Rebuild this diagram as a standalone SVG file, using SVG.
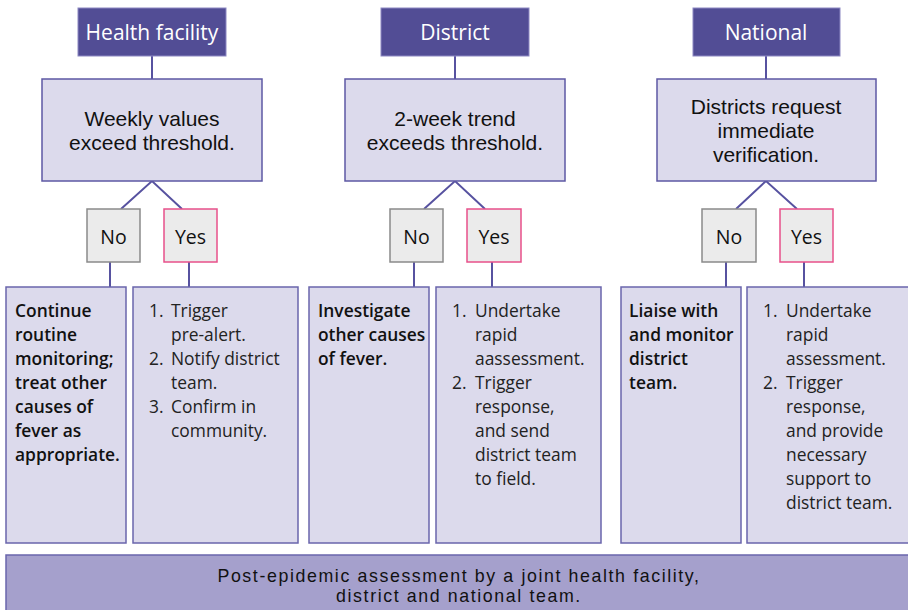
<svg xmlns="http://www.w3.org/2000/svg" width="908" height="610" viewBox="0 0 908 610">
<style>
.hdr{fill:#524D95;stroke:#8C88C2;stroke-width:1}
.hdrt{font-family:"Open Sans","Liberation Sans",sans-serif;font-size:21px;fill:#FFFFFF;text-anchor:middle}
.q{fill:#DCDAEC;stroke:#5E58A4;stroke-width:1.5}
.qt{font-family:"Liberation Sans",Arial,sans-serif;font-size:21px;fill:#111;text-anchor:middle}
.no{fill:#EBEBEB;stroke:#8A8A8A;stroke-width:1.5}
.yes{fill:#EBEBEB;stroke:#E8508A;stroke-width:1.5}
.ynt{font-family:"Open Sans","Liberation Sans",sans-serif;font-size:19.5px;fill:#111;text-anchor:middle}
.out{fill:#DCDAEC;stroke:#6A65AC;stroke-width:1.5}
.bt{font-family:"Open Sans","Liberation Sans",sans-serif;font-size:17.4px;fill:#111;font-weight:600}
.lt{font-family:"Open Sans","Liberation Sans",sans-serif;font-size:17.4px;fill:#222}
.bar{fill:#A5A0CC;stroke:#6A65AC;stroke-width:1.5}
.bart{font-family:"Liberation Sans",Arial,sans-serif;font-size:17.8px;letter-spacing:1.6px;fill:#111;text-anchor:middle}
.c{stroke:#5752A0;stroke-width:2;fill:none}
</style>
<g id="connectors">
<line class="c" x1="152" y1="56" x2="152" y2="79"/>
<polyline class="c" points="121,209 152,181 182,209"/>
<line class="c" x1="110" y1="262" x2="110" y2="287"/>
<line class="c" x1="189" y1="262" x2="189" y2="287"/>
<line class="c" x1="455" y1="56" x2="455" y2="79"/>
<polyline class="c" points="424,209 455,181 485,209"/>
<line class="c" x1="414" y1="262" x2="414" y2="287"/>
<line class="c" x1="492" y1="262" x2="492" y2="287"/>
<line class="c" x1="766" y1="56" x2="766" y2="79"/>
<polyline class="c" points="736,209 766,181 797,209"/>
<line class="c" x1="726" y1="262" x2="726" y2="287"/>
<line class="c" x1="804" y1="262" x2="804" y2="287"/>
</g>
<g id="hdr-health">
<rect class="hdr" x="78" y="8" width="148" height="48"/>
<text class="hdrt" x="152" y="40">Health facility</text>
</g>
<g id="hdr-district">
<rect class="hdr" x="381" y="8" width="148" height="48"/>
<text class="hdrt" x="455" y="40">District</text>
</g>
<g id="hdr-national">
<rect class="hdr" x="693" y="8" width="147" height="48"/>
<text class="hdrt" x="766" y="40">National</text>
</g>
<g id="q-health">
<rect class="q" x="42" y="79" width="220" height="102"/>
<text class="qt" x="152" y="126">Weekly values</text>
<text class="qt" x="152" y="150">exceed threshold.</text>
</g>
<g id="q-district">
<rect class="q" x="345" y="79" width="220" height="102"/>
<text class="qt" x="455" y="126">2-week trend</text>
<text class="qt" x="455" y="150">exceeds threshold.</text>
</g>
<g id="q-national">
<rect class="q" x="657" y="79" width="219" height="102"/>
<text class="qt" x="766" y="114">Districts request</text>
<text class="qt" x="766" y="138">immediate</text>
<text class="qt" x="766" y="162">verification.</text>
</g>
<g id="no-health"><rect class="no" x="87" y="209" width="53" height="53"/><text class="ynt" x="113.5" y="244">No</text></g>
<g id="yes-health"><rect class="yes" x="164" y="209" width="53" height="53"/><text class="ynt" x="190.5" y="244">Yes</text></g>
<g id="no-district"><rect class="no" x="390" y="209" width="53" height="53"/><text class="ynt" x="416.5" y="244">No</text></g>
<g id="yes-district"><rect class="yes" x="467" y="209" width="54" height="53"/><text class="ynt" x="494" y="244">Yes</text></g>
<g id="no-national"><rect class="no" x="702" y="209" width="54" height="53"/><text class="ynt" x="729" y="244">No</text></g>
<g id="yes-national"><rect class="yes" x="780" y="209" width="53" height="53"/><text class="ynt" x="806.5" y="244">Yes</text></g>
<g id="out-health-no">
<rect class="out" x="6" y="287" width="120" height="256"/>
<text class="bt" x="15" y="317">Continue</text>
<text class="bt" x="15" y="341">routine</text>
<text class="bt" x="15" y="365">monitoring;</text>
<text class="bt" x="15" y="389">treat other</text>
<text class="bt" x="15" y="413">causes of</text>
<text class="bt" x="15" y="437">fever as</text>
<text class="bt" x="15" y="461">appropriate.</text>
</g>
<g id="out-health-yes">
<rect class="out" x="133" y="287" width="165" height="256"/>
<text class="lt" x="149" y="317">1.</text><text class="lt" x="171" y="317">Trigger</text>
<text class="lt" x="171" y="341">pre-alert.</text>
<text class="lt" x="149" y="365">2.</text><text class="lt" x="171" y="365">Notify district</text>
<text class="lt" x="171" y="389">team.</text>
<text class="lt" x="149" y="413">3.</text><text class="lt" x="171" y="413">Confirm in</text>
<text class="lt" x="171" y="437">community.</text>
</g>
<g id="out-district-no">
<rect class="out" x="309" y="287" width="120" height="256"/>
<text class="bt" x="318" y="317">Investigate</text>
<text class="bt" x="318" y="341">other causes</text>
<text class="bt" x="318" y="365">of fever.</text>
</g>
<g id="out-district-yes">
<rect class="out" x="436" y="287" width="165" height="256"/>
<text class="lt" x="452" y="317">1.</text><text class="lt" x="475" y="317">Undertake</text>
<text class="lt" x="475" y="341">rapid</text>
<text class="lt" x="475" y="365">aassessment.</text>
<text class="lt" x="452" y="389">2.</text><text class="lt" x="475" y="389">Trigger</text>
<text class="lt" x="475" y="413">response,</text>
<text class="lt" x="475" y="437">and send</text>
<text class="lt" x="475" y="461">district team</text>
<text class="lt" x="475" y="485">to field.</text>
</g>
<g id="out-national-no">
<rect class="out" x="621" y="287" width="120" height="256"/>
<text class="bt" x="629" y="317">Liaise with</text>
<text class="bt" x="629" y="341">and monitor</text>
<text class="bt" x="629" y="365">district</text>
<text class="bt" x="629" y="389">team.</text>
</g>
<g id="out-national-yes">
<rect class="out" x="747" y="287" width="170" height="256"/>
<text class="lt" x="763" y="317">1.</text><text class="lt" x="786" y="317">Undertake</text>
<text class="lt" x="786" y="341">rapid</text>
<text class="lt" x="786" y="365">assessment.</text>
<text class="lt" x="763" y="389">2.</text><text class="lt" x="786" y="389">Trigger</text>
<text class="lt" x="786" y="413">response,</text>
<text class="lt" x="786" y="437">and provide</text>
<text class="lt" x="786" y="461">necessary</text>
<text class="lt" x="786" y="485">support to</text>
<text class="lt" x="786" y="509">district team.</text>
</g>
<g id="post">
<rect class="bar" x="6" y="555" width="912" height="70"/>
<text class="bart" x="459" y="582">Post-epidemic assessment by a joint health facility,</text>
<text class="bart" x="459" y="602">district and national team.</text>
</g>
</svg>
